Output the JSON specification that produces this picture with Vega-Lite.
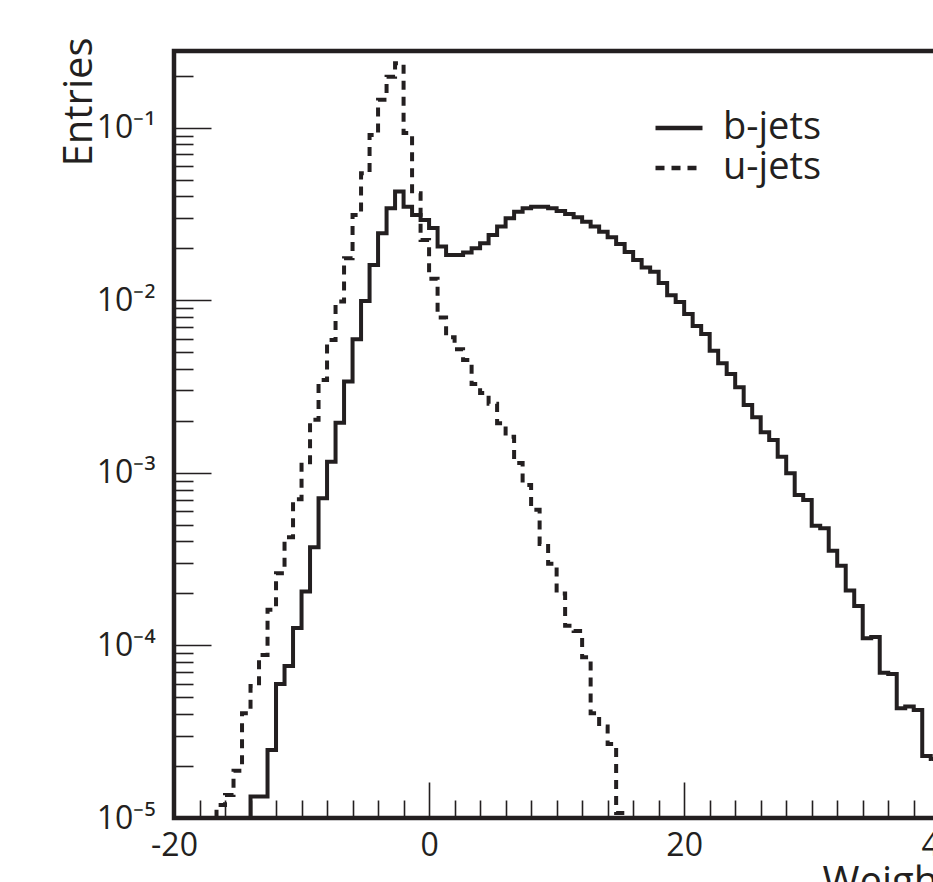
{
  "$schema": "https://vega.github.io/schema/vega-lite/v6.json",
  "autosize": {"type": "none"},
  "padding": {"left": 174, "top": 51, "right": 0, "bottom": 64},
  "width": 778,
  "height": 767,
  "background": "white",
  "config": {
    "view": {"stroke": "#231f20", "strokeWidth": 4.5},
    "font": "Open Sans",
    "axis": {"grid": false, "domain": false, "tickColor": "#231f20", "tickWidth": 1.6, "labelColor": "#231f20", "titleColor": "#231f20", "labelFont": "Open Sans", "titleFont": "Open Sans", "titleFontWeight": "normal", "labelOverlap": false, "labelFlush": false}
  },
  "data": {"values": [
    {"s": "b-jets", "x": -14.333, "y": 1e-6},
    {"s": "b-jets", "x": -13.667, "y": 1.33e-5},
    {"s": "b-jets", "x": -13.0, "y": 1.33e-5},
    {"s": "b-jets", "x": -12.333, "y": 2.48e-5},
    {"s": "b-jets", "x": -11.667, "y": 5.98e-5},
    {"s": "b-jets", "x": -11.0, "y": 7.6e-5},
    {"s": "b-jets", "x": -10.333, "y": 1.26e-4},
    {"s": "b-jets", "x": -9.667, "y": 2.05e-4},
    {"s": "b-jets", "x": -9.0, "y": 3.71e-4},
    {"s": "b-jets", "x": -8.333, "y": 7.13e-4},
    {"s": "b-jets", "x": -7.667, "y": 1.16e-3},
    {"s": "b-jets", "x": -7.0, "y": 1.95e-3},
    {"s": "b-jets", "x": -6.333, "y": 3.38e-3},
    {"s": "b-jets", "x": -5.667, "y": 5.94e-3},
    {"s": "b-jets", "x": -5.0, "y": 9.91e-3},
    {"s": "b-jets", "x": -4.333, "y": 0.016},
    {"s": "b-jets", "x": -3.667, "y": 0.0244},
    {"s": "b-jets", "x": -3.0, "y": 0.0341},
    {"s": "b-jets", "x": -2.333, "y": 0.0426},
    {"s": "b-jets", "x": -1.667, "y": 0.0348},
    {"s": "b-jets", "x": -1.0, "y": 0.0312},
    {"s": "b-jets", "x": -0.333, "y": 0.0292},
    {"s": "b-jets", "x": 0.333, "y": 0.0262},
    {"s": "b-jets", "x": 1.0, "y": 0.0205},
    {"s": "b-jets", "x": 1.667, "y": 0.0183},
    {"s": "b-jets", "x": 2.333, "y": 0.0183},
    {"s": "b-jets", "x": 3.0, "y": 0.0189},
    {"s": "b-jets", "x": 3.667, "y": 0.02},
    {"s": "b-jets", "x": 4.333, "y": 0.0214},
    {"s": "b-jets", "x": 5.0, "y": 0.0239},
    {"s": "b-jets", "x": 5.667, "y": 0.0267},
    {"s": "b-jets", "x": 6.333, "y": 0.0299},
    {"s": "b-jets", "x": 7.0, "y": 0.0326},
    {"s": "b-jets", "x": 7.667, "y": 0.0341},
    {"s": "b-jets", "x": 8.333, "y": 0.0348},
    {"s": "b-jets", "x": 9.0, "y": 0.0348},
    {"s": "b-jets", "x": 9.667, "y": 0.0341},
    {"s": "b-jets", "x": 10.333, "y": 0.0329},
    {"s": "b-jets", "x": 11.0, "y": 0.0316},
    {"s": "b-jets", "x": 11.667, "y": 0.0303},
    {"s": "b-jets", "x": 12.333, "y": 0.0285},
    {"s": "b-jets", "x": 13.0, "y": 0.0267},
    {"s": "b-jets", "x": 13.667, "y": 0.0249},
    {"s": "b-jets", "x": 14.333, "y": 0.0232},
    {"s": "b-jets", "x": 15.0, "y": 0.0212},
    {"s": "b-jets", "x": 15.667, "y": 0.019},
    {"s": "b-jets", "x": 16.333, "y": 0.0171},
    {"s": "b-jets", "x": 17.0, "y": 0.0155},
    {"s": "b-jets", "x": 17.667, "y": 0.0146},
    {"s": "b-jets", "x": 18.333, "y": 0.0126},
    {"s": "b-jets", "x": 19.0, "y": 0.0107},
    {"s": "b-jets", "x": 19.667, "y": 0.00977},
    {"s": "b-jets", "x": 20.333, "y": 0.00833},
    {"s": "b-jets", "x": 21.0, "y": 0.0071},
    {"s": "b-jets", "x": 21.667, "y": 0.00638},
    {"s": "b-jets", "x": 22.333, "y": 0.0051},
    {"s": "b-jets", "x": 23.0, "y": 0.00431},
    {"s": "b-jets", "x": 23.667, "y": 0.00374},
    {"s": "b-jets", "x": 24.333, "y": 0.00313},
    {"s": "b-jets", "x": 25.0, "y": 0.00247},
    {"s": "b-jets", "x": 25.667, "y": 0.0021},
    {"s": "b-jets", "x": 26.333, "y": 0.00172},
    {"s": "b-jets", "x": 27.0, "y": 0.00155},
    {"s": "b-jets", "x": 27.667, "y": 0.00124},
    {"s": "b-jets", "x": 28.333, "y": 9.95e-4},
    {"s": "b-jets", "x": 29.0, "y": 7.45e-4},
    {"s": "b-jets", "x": 29.667, "y": 6.97e-4},
    {"s": "b-jets", "x": 30.333, "y": 4.94e-4},
    {"s": "b-jets", "x": 31.0, "y": 4.78e-4},
    {"s": "b-jets", "x": 31.667, "y": 3.54e-4},
    {"s": "b-jets", "x": 32.333, "y": 2.89e-4},
    {"s": "b-jets", "x": 33.0, "y": 2.08e-4},
    {"s": "b-jets", "x": 33.667, "y": 1.69e-4},
    {"s": "b-jets", "x": 34.333, "y": 1.1e-4},
    {"s": "b-jets", "x": 35.0, "y": 1.12e-4},
    {"s": "b-jets", "x": 35.667, "y": 6.95e-5},
    {"s": "b-jets", "x": 36.333, "y": 6.84e-5},
    {"s": "b-jets", "x": 37.0, "y": 4.33e-5},
    {"s": "b-jets", "x": 37.667, "y": 4.42e-5},
    {"s": "b-jets", "x": 38.333, "y": 4.23e-5},
    {"s": "b-jets", "x": 39.0, "y": 2.29e-5},
    {"s": "b-jets", "x": 39.667, "y": 2.2e-5},
    {"s": "b-jets", "x": 40.333, "y": 1.6e-5},
    {"s": "b-jets", "x": 41.0, "y": 1.3e-5},
    {"s": "u-jets", "x": -17.0, "y": 1e-6},
    {"s": "u-jets", "x": -16.333, "y": 1.19e-5},
    {"s": "u-jets", "x": -15.667, "y": 1.36e-5},
    {"s": "u-jets", "x": -15.0, "y": 1.88e-5},
    {"s": "u-jets", "x": -14.333, "y": 4.05e-5},
    {"s": "u-jets", "x": -13.667, "y": 5.82e-5},
    {"s": "u-jets", "x": -13.0, "y": 8.81e-5},
    {"s": "u-jets", "x": -12.333, "y": 1.61e-4},
    {"s": "u-jets", "x": -11.667, "y": 2.62e-4},
    {"s": "u-jets", "x": -11.0, "y": 4.23e-4},
    {"s": "u-jets", "x": -10.333, "y": 7.03e-4},
    {"s": "u-jets", "x": -9.667, "y": 1.15e-3},
    {"s": "u-jets", "x": -9.0, "y": 2.03e-3},
    {"s": "u-jets", "x": -8.333, "y": 3.45e-3},
    {"s": "u-jets", "x": -7.667, "y": 5.89e-3},
    {"s": "u-jets", "x": -7.0, "y": 9.82e-3},
    {"s": "u-jets", "x": -6.333, "y": 0.0175},
    {"s": "u-jets", "x": -5.667, "y": 0.0312},
    {"s": "u-jets", "x": -5.0, "y": 0.0545},
    {"s": "u-jets", "x": -4.333, "y": 0.0907},
    {"s": "u-jets", "x": -3.667, "y": 0.145},
    {"s": "u-jets", "x": -3.0, "y": 0.197},
    {"s": "u-jets", "x": -2.333, "y": 0.236},
    {"s": "u-jets", "x": -1.667, "y": 0.0931},
    {"s": "u-jets", "x": -1.0, "y": 0.0417},
    {"s": "u-jets", "x": -0.333, "y": 0.0223},
    {"s": "u-jets", "x": 0.333, "y": 0.0133},
    {"s": "u-jets", "x": 1.0, "y": 7.94e-3},
    {"s": "u-jets", "x": 1.667, "y": 6.11e-3},
    {"s": "u-jets", "x": 2.333, "y": 5.2e-3},
    {"s": "u-jets", "x": 3.0, "y": 4.51e-3},
    {"s": "u-jets", "x": 3.667, "y": 3.27e-3},
    {"s": "u-jets", "x": 4.333, "y": 2.9e-3},
    {"s": "u-jets", "x": 5.0, "y": 2.51e-3},
    {"s": "u-jets", "x": 5.667, "y": 1.94e-3},
    {"s": "u-jets", "x": 6.333, "y": 1.62e-3},
    {"s": "u-jets", "x": 7.0, "y": 1.14e-3},
    {"s": "u-jets", "x": 7.667, "y": 8.51e-4},
    {"s": "u-jets", "x": 8.333, "y": 6.1e-4},
    {"s": "u-jets", "x": 9.0, "y": 3.87e-4},
    {"s": "u-jets", "x": 9.667, "y": 2.97e-4},
    {"s": "u-jets", "x": 10.333, "y": 2.0e-4},
    {"s": "u-jets", "x": 11.0, "y": 1.3e-4},
    {"s": "u-jets", "x": 11.667, "y": 1.21e-4},
    {"s": "u-jets", "x": 12.333, "y": 8.55e-5},
    {"s": "u-jets", "x": 13.0, "y": 4.05e-5},
    {"s": "u-jets", "x": 13.667, "y": 3.39e-5},
    {"s": "u-jets", "x": 14.333, "y": 2.68e-5},
    {"s": "u-jets", "x": 15.0, "y": 1.07e-5},
    {"s": "u-jets", "x": 15.667, "y": 1e-6}
  ]},
  "mark": {"type": "line", "interpolate": "step", "clip": true, "strokeWidth": 4, "color": "#231f20", "strokeCap": "butt"},
  "encoding": {
    "x": {
      "field": "x", "type": "quantitative",
      "scale": {"domain": [-20, 41], "nice": false, "zero": false},
      "axis": {
        "values": [-20,-18,-16,-14,-12,-10,-8,-6,-4,-2,0,2,4,6,8,10,12,14,16,18,20,22,24,26,28,30,32,34,36,38,40],
        "tickSize": {"condition": {"test": "datum.value % 20 === 0", "value": -36}, "value": -18},
        "labelExpr": "datum.value % 20 === 0 ? '' + datum.value : ''",
        "labelFontSize": 32, "labelPadding": 48, "labelBaseline": "top",
        "title": "Weight", "titleFontSize": 40, "titleAnchor": "end", "titleAlign": "right", "titleBaseline": "alphabetic", "titleX": 778, "titleY": 76
      }
    },
    "y": {
      "field": "y", "type": "quantitative",
      "scale": {"type": "log", "domain": [1e-5, 0.278], "nice": false},
      "axis": {
        "values": [1e-5,2e-5,3e-5,4e-5,5e-5,6e-5,7e-5,8e-5,9e-5,1e-4,2e-4,3e-4,4e-4,5e-4,6e-4,7e-4,8e-4,9e-4,1e-3,2e-3,3e-3,4e-3,5e-3,6e-3,7e-3,8e-3,9e-3,0.01,0.02,0.03,0.04,0.05,0.06,0.07,0.08,0.09,0.1,0.2],
        "tickSize": {"condition": {"test": "abs(log(datum.value)/LN10 - round(log(datum.value)/LN10)) < 0.001", "value": -37}, "value": -19},
        "labelExpr": "abs(log(datum.value)/LN10 - round(log(datum.value)/LN10)) < 0.001 ? '10' + ['⁰','⁻¹','⁻²','⁻³','⁻⁴','⁻⁵'][-round(log(datum.value)/LN10)] : ''",
        "labelFontSize": 32, "labelPadding": 56, "labelBaseline": "middle",
        "title": "Entries", "titleFontSize": 40, "titleAngle": 270, "titleAnchor": "end", "titleAlign": "right", "titleBaseline": "alphabetic", "titleX": -83, "titleY": -14
      }
    },
    "strokeDash": {
      "field": "s", "type": "nominal",
      "scale": {"domain": ["b-jets", "u-jets"], "range": [[1, 0], [9, 7]]},
      "legend": {
        "orient": "none", "legendX": 479, "legendY": 57, "title": null, "padding": 0,
        "symbolType": "stroke", "symbolSize": 2209, "symbolStrokeWidth": 4.5, "symbolStrokeColor": "#231f20",
        "labelFontSize": 38, "labelFont": "Open Sans", "labelColor": "#231f20", "labelOffset": 18,
        "clipHeight": 40, "rowPadding": 0
      }
    }
  }
}
